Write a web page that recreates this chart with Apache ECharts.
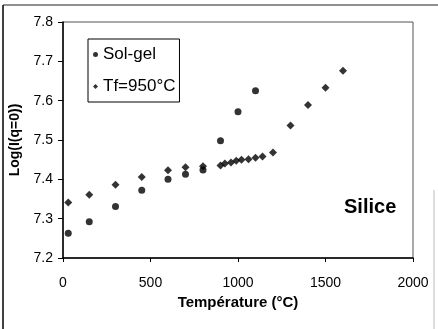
<!DOCTYPE html>
<html>
<head>
<meta charset="utf-8">
<script src="https://cdn.jsdelivr.net/npm/echarts@6/dist/echarts.min.js"></script>
<style>
  html, body { margin: 0; padding: 0; background: #fff; }
  #chart { width: 438px; height: 329px; }
</style>
</head>
<body>
<div id="chart"></div>
<script>
// Sol-gel samples
const solGelTemp = [30, 150, 300, 450, 600, 700, 800, 900, 1000, 1100]
const solGelLog = [7.263, 7.292, 7.331, 7.372, 7.400, 7.413, 7.424, 7.498, 7.572, 7.625]

// Tf = 950°C samples
const tfTemp = [30, 150, 300, 450, 600, 700, 800, 900, 925, 960, 990, 1020, 1060, 1100, 1140, 1200, 1300, 1400, 1500, 1600]
const tfLog = [7.341, 7.361, 7.386, 7.406, 7.423, 7.431, 7.433, 7.435, 7.440, 7.443, 7.447, 7.450, 7.451, 7.455, 7.458, 7.468, 7.537, 7.589, 7.633, 7.676]

const xTicks = { min: 0, max: 2000, step: 500 }
const yTicks = { min: 7.2, max: 7.8, step: 0.1 }

const FONT = '"Liberation Sans", Arial, sans-serif'

const chart = echarts.init(document.getElementById('chart'), null, { renderer: 'canvas' })

const pairs = (xs, ys) => xs.map((x, i) => [x, ys[i]])

chart.setOption({
  animation: false,
  backgroundColor: '#fff',
  textStyle: { fontFamily: FONT, color: '#000' },
  grid: {
    left: 63, right: 25, top: 22, bottom: 71,
    show: true, borderColor: '#555', borderWidth: 1,
  },
  legend: {
    left: 88, top: 39,
    orient: 'vertical',
    padding: [7, 4, 7, 5],
    itemGap: 15,
    itemWidth: 5, itemHeight: 5,
    itemTextGap: 5,
    textStyle: { fontSize: 17, color: '#000', fontFamily: FONT },
    borderColor: '#000', borderWidth: 1,
    backgroundColor: '#fff',
    data: ['Sol-gel', 'Tf=950°C'],
  },
  graphic: [
    { type: 'line', shape: { x1: 3, y1: 5, x2: 3, y2: 329 }, style: { stroke: '#000', lineWidth: 1.5 } },
    { type: 'line', shape: { x1: 3, y1: 5, x2: 438, y2: 5 }, style: { stroke: '#222', lineWidth: 1.2 } },
    { type: 'line', shape: { x1: 434, y1: 190, x2: 434, y2: 329 }, style: { stroke: '#bbb', lineWidth: 1 } },
    {
      type: 'text', left: 344, top: 197,
      style: { text: 'Silice', font: 'bold 20px ' + FONT, fill: '#000' },
    },
  ],
  xAxis: {
    type: 'value',
    min: xTicks.min, max: xTicks.max, interval: xTicks.step,
    name: 'Température (°C)',
    nameLocation: 'middle',
    nameGap: 27,
    nameTextStyle: { fontSize: 15, fontWeight: 'bold', color: '#000', fontFamily: FONT },
    axisLine: { lineStyle: { color: '#000', width: 1.5 } },
    axisTick: { show: true, length: 4, lineStyle: { color: '#000' } },
    axisLabel: { fontSize: 14, color: '#000', margin: 18, fontFamily: FONT, formatter: v => String(v) },
    splitLine: { show: false },
  },
  yAxis: {
    type: 'value',
    min: yTicks.min, max: yTicks.max, interval: yTicks.step,
    name: 'Log(I(q=0))',
    nameLocation: 'middle',
    nameGap: 34,
    nameTextStyle: { fontSize: 14, fontWeight: 'bold', color: '#000', fontFamily: FONT },
    axisLine: { lineStyle: { color: '#000', width: 1.5 } },
    axisTick: { show: true, length: 5, lineStyle: { color: '#000' } },
    axisLabel: {
      fontSize: 14, color: '#000', margin: 10, fontFamily: FONT,
      formatter: v => v.toFixed(1),
    },
    splitLine: { show: false },
  },
  series: [
    {
      name: 'Sol-gel',
      type: 'scatter',
      symbol: 'circle',
      symbolSize: 7,
      itemStyle: { color: '#000' },
      data: pairs(solGelTemp, solGelLog),
    },
    {
      name: 'Tf=950°C',
      type: 'scatter',
      symbol: 'diamond',
      symbolSize: 8,
      itemStyle: { color: '#000' },
      data: pairs(tfTemp, tfLog),
    },
  ],
})
</script>
</body>
</html>
